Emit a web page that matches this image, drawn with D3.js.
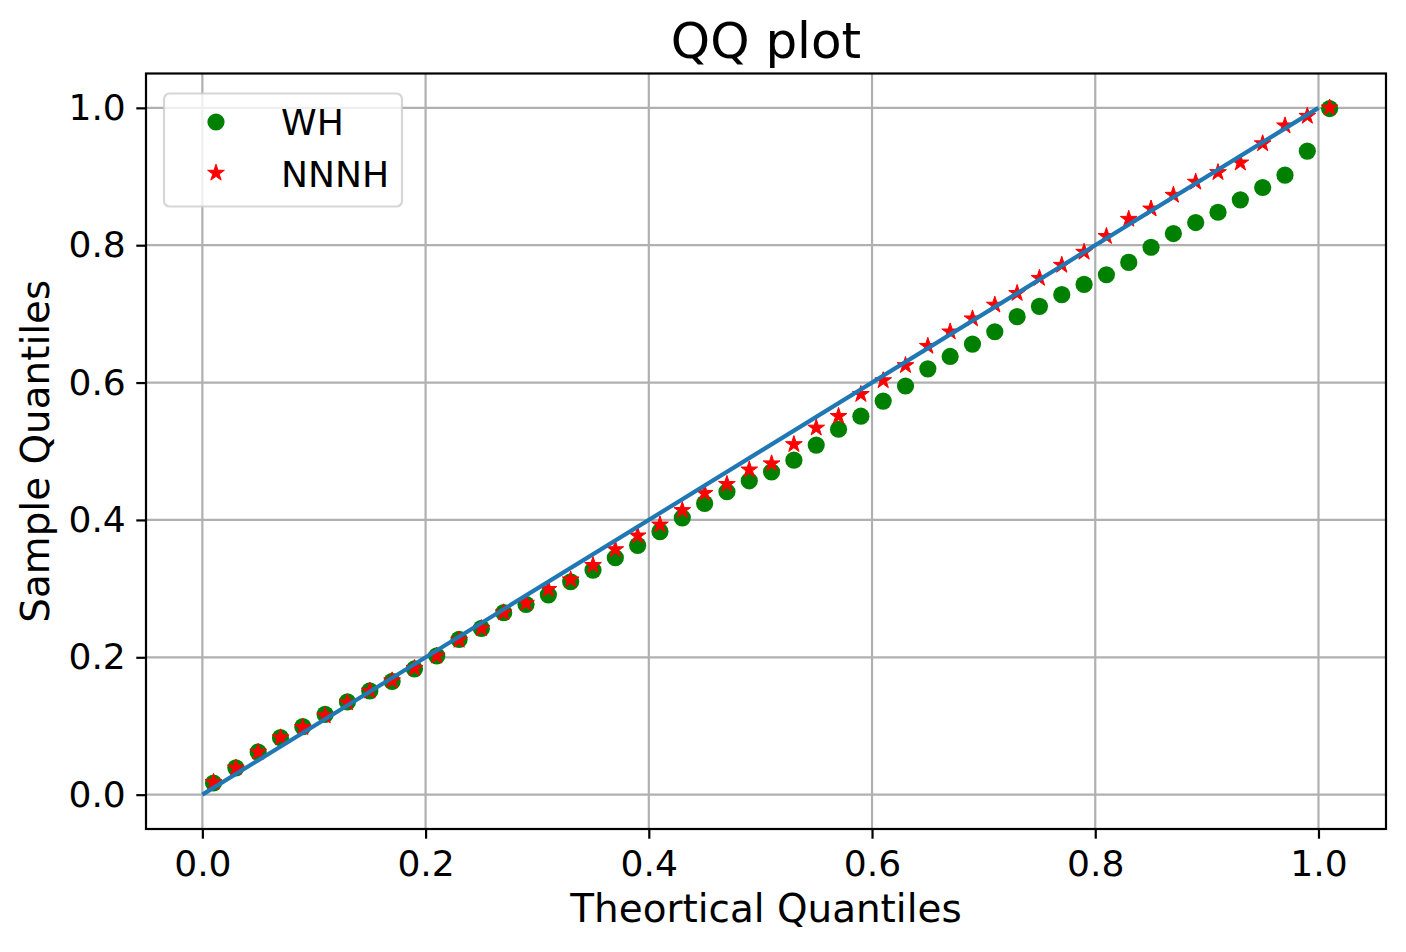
<!DOCTYPE html>
<html>
<head>
<meta charset="utf-8">
<script src="https://cdn.jsdelivr.net/npm/d3@7"></script>
<style>
  body { margin: 0; background: #fff; }
  text { font-family: "DejaVu Sans", sans-serif; fill: #000; }
</style>
</head>
<body>
<div id="vis"></div>
<script>
// theoretical quantiles (x) shared by both series
const theoretical = [0.01, 0.03, 0.05, 0.07, 0.09, 0.11, 0.13, 0.15, 0.17, 0.19,
  0.21, 0.23, 0.25, 0.27, 0.29, 0.31, 0.33, 0.35, 0.37, 0.39,
  0.41, 0.43, 0.45, 0.47, 0.49, 0.51, 0.53, 0.55, 0.57, 0.59,
  0.61, 0.63, 0.65, 0.67, 0.69, 0.71, 0.73, 0.75, 0.77, 0.79,
  0.81, 0.83, 0.85, 0.87, 0.89, 0.91, 0.93, 0.95, 0.97, 0.99, 1.01];

const whValues = [0.017, 0.039, 0.062, 0.083, 0.099, 0.117, 0.135, 0.151, 0.165, 0.183,
  0.202, 0.226, 0.242, 0.265, 0.277, 0.291, 0.310, 0.327, 0.345, 0.363,
  0.383, 0.403, 0.424, 0.441, 0.457, 0.470, 0.487, 0.509, 0.532, 0.551,
  0.573, 0.595, 0.620, 0.638, 0.656, 0.674, 0.696, 0.711, 0.728, 0.743,
  0.757, 0.775, 0.797, 0.817, 0.833, 0.848, 0.866, 0.884, 0.902, 0.937, 0.999];

const nnnhValues = [0.018, 0.039, 0.062, 0.083, 0.098, 0.115, 0.134, 0.151, 0.166, 0.184,
  0.202, 0.225, 0.242, 0.265, 0.279, 0.299, 0.313, 0.334, 0.357, 0.377,
  0.393, 0.414, 0.439, 0.452, 0.473, 0.482, 0.510, 0.534, 0.551, 0.583,
  0.603, 0.625, 0.653, 0.674, 0.693, 0.713, 0.730, 0.752, 0.771, 0.790,
  0.813, 0.838, 0.853, 0.873, 0.892, 0.906, 0.920, 0.948, 0.974, 0.988, 1.000];

const refLine = [[0, 0], [1, 1]];

const xTicks = [0.0, 0.2, 0.4, 0.6, 0.8, 1.0];
const yTicks = [0.0, 0.2, 0.4, 0.6, 0.8, 1.0];
const seriesNames = ["WH", "NNNH"];

const W = 1406, H = 952,
    axL = 146, axR = 1386, axT = 73.5, axB = 829;

const x = d3.scaleLinear().domain([-0.0505, 1.0605]).range([axL, axR]),
    y = d3.scaleLinear().domain([-0.05, 1.05]).range([axB, axT]);

const svg = d3.select("#vis").append("svg")
    .attr("width", W)
    .attr("height", H);

// grid
const grid = svg.append("g").attr("stroke", "#b0b0b0").attr("stroke-width", 2.2);
grid.selectAll(".gx").data(xTicks).enter().append("line")
    .attr("x1", d => x(d)).attr("x2", d => x(d))
    .attr("y1", axT).attr("y2", axB);
grid.selectAll(".gy").data(yTicks).enter().append("line")
    .attr("y1", d => y(d)).attr("y2", d => y(d))
    .attr("x1", axL).attr("x2", axR);

// axes
const fmt = d3.format(".1f");
svg.append("g")
    .attr("transform", "translate(0," + axB + ")")
    .call(d3.axisBottom(x).tickValues(xTicks).tickFormat(fmt).tickSize(9.7).tickPadding(11.5))
    .call(g => g.select(".domain").remove())
    .call(g => g.selectAll("line").attr("stroke", "#000").attr("stroke-width", 2.2))
    .call(g => g.selectAll("text").attr("font-size", "36.1px")
        .attr("font-family", "DejaVu Sans").attr("fill", "#000"));

svg.append("g")
    .attr("transform", "translate(" + axL + ",0)")
    .call(d3.axisLeft(y).tickValues(yTicks).tickFormat(fmt).tickSize(9.7).tickPadding(10.5))
    .call(g => g.select(".domain").remove())
    .call(g => g.selectAll("line").attr("stroke", "#000").attr("stroke-width", 2.2))
    .call(g => g.selectAll("text").attr("font-size", "36.1px")
        .attr("font-family", "DejaVu Sans").attr("fill", "#000"));

// star marker like matplotlib '*'
function starPath(r) {
  const pts = [], inner = r * 0.381966;
  for (let i = 0; i < 10; i++) {
    const a = Math.PI / 2 + i * Math.PI / 5,
        rr = i % 2 ? inner : r;
    pts.push([rr * Math.cos(a), -rr * Math.sin(a)]);
  }
  return "M" + pts.join("L") + "Z";
}

const plot = svg.append("g");

plot.selectAll(".wh").data(theoretical).enter().append("circle")
    .attr("cx", d => x(d))
    .attr("cy", (d, i) => y(whValues[i]))
    .attr("r", 8.6)
    .attr("fill", "#008000");

plot.selectAll(".nnnh").data(theoretical).enter().append("path")
    .attr("d", starPath(8.8))
    .attr("transform", (d, i) => "translate(" + x(d) + "," + y(nnnhValues[i]) + ")")
    .attr("fill", "#ff0000")
    .attr("stroke", "#ff0000")
    .attr("stroke-width", 1);

plot.append("path")
    .datum(refLine)
    .attr("d", d3.line().x(d => x(d[0])).y(d => y(d[1])))
    .attr("fill", "none")
    .attr("stroke", "#1f77b4")
    .attr("stroke-width", 4.2);

// frame
svg.append("rect")
    .attr("x", axL).attr("y", axT)
    .attr("width", axR - axL).attr("height", axB - axT)
    .attr("fill", "none").attr("stroke", "#000").attr("stroke-width", 2.2);

// legend
const legend = svg.append("g");
legend.append("rect")
    .attr("x", 164).attr("y", 93.5).attr("width", 238).attr("height", 113).attr("rx", 5.5)
    .attr("fill", "#fff").attr("fill-opacity", 0.8)
    .attr("stroke", "#cccccc").attr("stroke-opacity", 0.8).attr("stroke-width", 2.2);
legend.append("circle").attr("cx", 216).attr("cy", 122).attr("r", 8.6).attr("fill", "#008000");
legend.append("path").attr("d", starPath(8.8))
    .attr("transform", "translate(216,173)")
    .attr("fill", "#ff0000").attr("stroke", "#ff0000").attr("stroke-width", 1);
legend.selectAll(".lt").data(seriesNames).enter().append("text")
    .attr("x", 281)
    .attr("y", (d, i) => 135 + i * 52)
    .attr("font-size", "36.1px")
    .text(d => d);

// labels
svg.append("text")
    .attr("x", (axL + axR) / 2).attr("y", 58)
    .attr("text-anchor", "middle")
    .attr("font-size", "50px")
    .text("QQ plot");

svg.append("text")
    .attr("x", (axL + axR) / 2).attr("y", 922)
    .attr("text-anchor", "middle")
    .attr("font-size", "38.9px")
    .text("Theortical Quantiles");

svg.append("text")
    .attr("transform", "translate(49," + (axT + axB) / 2 + ") rotate(-90)")
    .attr("text-anchor", "middle")
    .attr("font-size", "38.9px")
    .text("Sample Quantiles");
</script>
</body>
</html>
